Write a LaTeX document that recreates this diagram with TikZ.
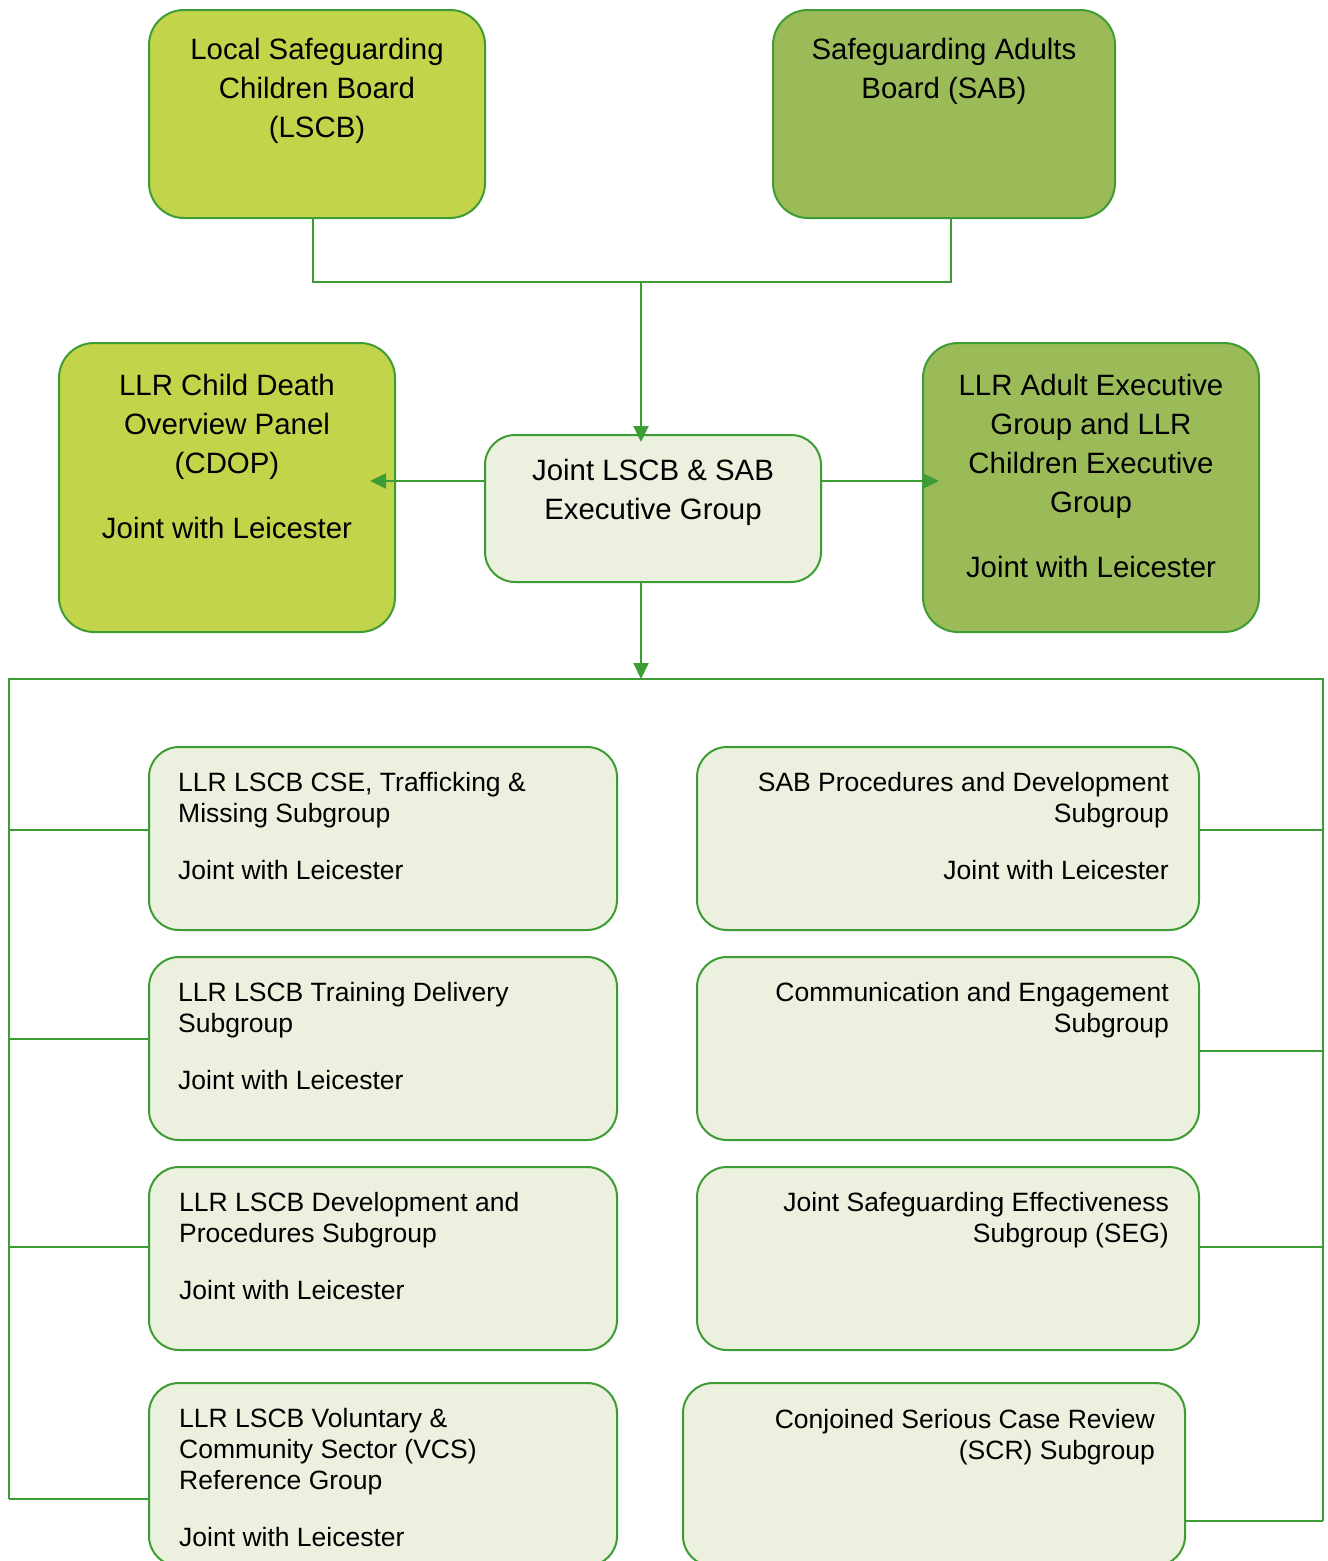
\documentclass[tikz,border=0pt]{standalone}
\usepackage{fontspec}
\setmainfont{Liberation Sans}
\usetikzlibrary{arrows.meta}
\definecolor{ln}{RGB}{62,156,52}
\definecolor{lime}{RGB}{194,212,74}
\definecolor{olive}{RGB}{155,187,89}
\definecolor{pale}{RGB}{235,241,222}
\begin{document}
\begin{tikzpicture}[x=1pt,y=-1pt,
  bigbox/.style={draw=ln, line width=2pt, rounded corners=35pt, inner sep=0pt},
  subbox/.style={draw=ln, line width=2pt, rounded corners=30pt, inner sep=0pt, fill=pale},
  bigtxt/.style={font=\fontsize{29.4}{39}\selectfont, align=center, inner sep=0pt, anchor=north},
  subtxtl/.style={font=\fontsize{26.5}{31}\selectfont, align=left, inner sep=0pt, anchor=north west},
  subtxtr/.style={font=\fontsize{26.5}{31}\selectfont, align=right, inner sep=0pt, anchor=north east},
  conn/.style={draw=ln, line width=2pt},
  arr/.style={draw=ln, line width=2pt, -{Triangle[width=15pt,length=16pt]}}]
\useasboundingbox (0,0) rectangle (1328,1561);
\clip (0,0) rectangle (1328,1561);
\fill[white] (0,0) rectangle (1328,1561);

% top boards
\node[bigbox, fill=lime, minimum width=336pt, minimum height=208pt] (lscb) at (317,114) {};
\node[bigtxt] (lscbT) at (317,38) {Local Safeguarding\\Children Board\\(LSCB)};
\node[bigbox, fill=olive, minimum width=342pt, minimum height=208pt] (sab) at (944,114) {};
\node[bigtxt] (sabT) at (944,38) {Safeguarding Adults\\Board (SAB)};

% executive group
\node[subbox, minimum width=336pt, minimum height=147pt] (exec) at (653,508.5) {};
\node[bigtxt] (execT) at (653,459) {Joint LSCB \& SAB\\Executive Group};

% side boxes
\node[bigbox, fill=lime, minimum width=336pt, minimum height=289pt] (cdop) at (227,487.5) {};
\node[bigtxt] (cdopT) at (227,374) {LLR Child Death\\Overview Panel\\(CDOP)\\[26pt]Joint with Leicester};
\node[bigbox, fill=olive, minimum width=336pt, minimum height=289pt] (adult) at (1091,487.5) {};
\node[bigtxt] (adultT) at (1091,374) {LLR Adult Executive\\Group and LLR\\Children Executive\\Group\\[26pt]Joint with Leicester};

% subgroups left
\node[subbox, minimum width=468pt, minimum height=183pt] (l1) at (383,838.5) {};
\node[subtxtl] (l1T) at (178,772) {LLR LSCB CSE, Trafficking \&\\Missing Subgroup\\[26pt]Joint with Leicester};
\node[subbox, minimum width=468pt, minimum height=183pt] (l2) at (383,1048.5) {};
\node[subtxtl] (l2T) at (178,982) {LLR LSCB Training Delivery\\Subgroup\\[26pt]Joint with Leicester};
\node[subbox, minimum width=468pt, minimum height=183pt] (l3) at (383,1258.5) {};
\node[subtxtl] (l3T) at (179,1192) {LLR LSCB Development and\\Procedures Subgroup\\[26pt]Joint with Leicester};
\node[subbox, minimum width=468pt, minimum height=183pt] (l4) at (383,1474.5) {};
\node[subtxtl] (l4T) at (179,1408) {LLR LSCB Voluntary \&\\Community Sector (VCS)\\Reference Group\\[26pt]Joint with Leicester};

% subgroups right
\node[subbox, minimum width=502pt, minimum height=183pt] (r1) at (948,838.5) {};
\node[subtxtr] (r1T) at (1169,772) {SAB Procedures and Development\\Subgroup\\[26pt]Joint with Leicester};
\node[subbox, minimum width=502pt, minimum height=183pt] (r2) at (948,1048.5) {};
\node[subtxtr] (r2T) at (1169,982) {Communication and Engagement\\Subgroup};
\node[subbox, minimum width=502pt, minimum height=183pt] (r3) at (948,1258.5) {};
\node[subtxtr] (r3T) at (1169,1192) {Joint Safeguarding Effectiveness\\Subgroup (SEG)};
\node[subbox, minimum width=502pt, minimum height=183pt] (r4) at (934,1474.5) {};
\node[subtxtr] (r4T) at (1155,1409) {Conjoined Serious Case Review\\(SCR) Subgroup};

% connectors top
\coordinate (j1) at (641,282);
\draw[conn] ([xshift=-4pt]lscb.south) |- (j1) -| ([xshift=7pt]sab.south);
\draw[arr] (j1) -- ([xshift=-12pt,yshift=-8pt]exec.north);
\draw[arr] ([yshift=27.5pt]exec.west) -- ([xshift=-26pt,yshift=6.5pt]cdop.east);
\draw[arr] ([yshift=27.5pt]exec.east) -- ([xshift=17pt,yshift=6.5pt]adult.west);

% bus
\coordinate (bus) at (641,679);
\coordinate (bl) at (9,679);
\coordinate (br) at (1323,679);
\draw[arr] ([xshift=-12pt]exec.south) -- (bus);
\coordinate (tl1) at (9,830);
\coordinate (tl2) at (9,1039);
\coordinate (tl3) at (9,1247);
\coordinate (tl4) at (9,1499);
\coordinate (tr1) at (1323,830);
\coordinate (tr2) at (1323,1051);
\coordinate (tr3) at (1323,1247);
\coordinate (tr4) at (1323,1521);
\draw[conn] (tl4) -- (bl) -- (br) -- (tr4);
\draw[conn] (tl1) -- (l1.west |- tl1);
\draw[conn] (tl2) -- (l2.west |- tl2);
\draw[conn] (tl3) -- (l3.west |- tl3);
\draw[conn] (tl4) -- (l4.west |- tl4);
\draw[conn] (tr1) -- (r1.east |- tr1);
\draw[conn] (tr2) -- (r2.east |- tr2);
\draw[conn] (tr3) -- (r3.east |- tr3);
\draw[conn] (tr4) -- (r4.east |- tr4);
\end{tikzpicture}
\end{document}
